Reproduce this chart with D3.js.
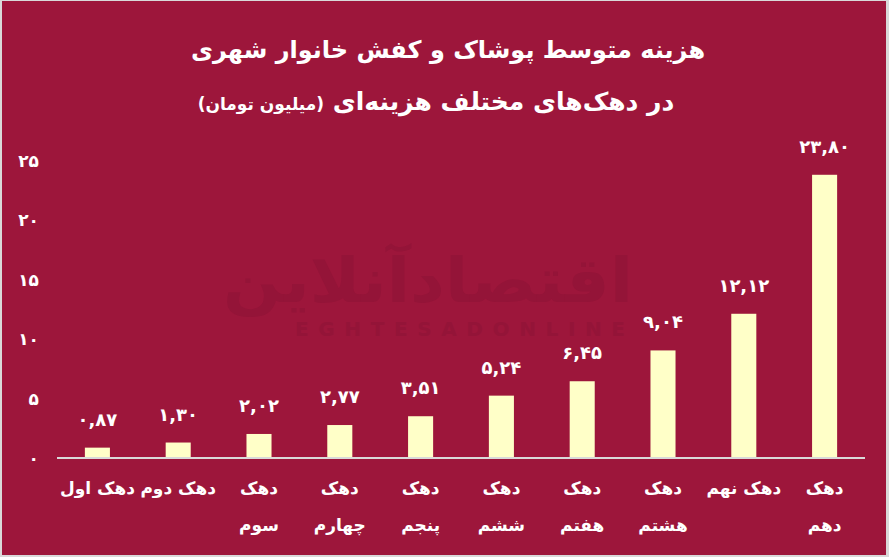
<!DOCTYPE html>
<html>
<head>
<meta charset="utf-8">
<script src="https://cdn.jsdelivr.net/npm/d3@7"></script>
<style>
  html, body { margin: 0; padding: 0; background: #d9d9d9; }
  svg { display: block; }
  text { font-family: "DejaVu Sans", sans-serif; }
</style>
</head>
<body>
<svg id="chart" width="889" height="557"></svg>
<script>
// ---- data ----
const categories = ["دهک اول", "دهک دوم", "دهک\nسوم", "دهک\nچهارم", "دهک\nپنجم",
                    "دهک\nششم", "دهک\nهفتم", "دهک\nهشتم", "دهک نهم", "دهک\nدهم"];
const values = [0.87, 1.30, 2.02, 2.77, 3.51, 5.24, 6.45, 9.04, 12.12, 23.80];
const yTicks = [0, 5, 10, 15, 20, 25];
const titleLine1 = "هزینه متوسط پوشاک و کفش خانوار شهری";
const titleLine2 = "در دهک‌های مختلف هزینه‌ای";
const titleUnit = "(میلیون تومان)";

const faDigits = "۰۱۲۳۴۵۶۷۸۹";
const toFa = s => String(s).replace(/[0-9]/g, d => faDigits[+d]);

const W = 889, H = 557;
const svg = d3.select("#chart");

// background + border
svg.append("rect").attr("x", 0).attr("y", 0).attr("width", W).attr("height", H).attr("fill", "#d9d9d9");
svg.append("rect").attr("x", 2).attr("y", 1).attr("width", 884).attr("height", 554).attr("fill", "#9d163b");

// watermark
svg.append("text").attr("x", 428).attr("y", 302).attr("text-anchor", "middle")
  .attr("font-size", 62).attr("font-weight", "bold").attr("fill", "#921438").attr("opacity", 0.8)
  .attr("direction", "rtl").attr("textLength", 410).attr("lengthAdjust", "spacingAndGlyphs")
  .text("اقتصادآنلاین");
svg.append("text").attr("x", 460).attr("y", 336).attr("text-anchor", "middle")
  .attr("font-size", 20).attr("font-weight", "bold").attr("fill", "#921438").attr("opacity", 0.8)
  .attr("textLength", 330).attr("lengthAdjust", "spacing").text("EGHTESADONLINE");

// scales
const x = d3.scaleBand().domain(d3.range(categories.length)).range([57, 865])
  .paddingInner(0.69).paddingOuter(0.345);
const y = d3.scaleLinear().domain([0, 25]).range([458, 160.5]);

// title
svg.append("text").attr("x", 448).attr("y", 58).attr("text-anchor", "middle")
  .attr("direction", "rtl").attr("fill", "#ffffff").attr("font-size", 24).attr("font-weight", "bold")
  .text(titleLine1);
const t2 = svg.append("text").attr("x", 436).attr("y", 110).attr("text-anchor", "middle")
  .attr("direction", "rtl").attr("fill", "#ffffff").attr("font-weight", "bold");
t2.append("tspan").attr("font-size", 25).text(titleLine2 + " ");
t2.append("tspan").attr("font-size", 17).text(titleUnit);

// y axis labels
const yAxis = d3.axisLeft(y).tickValues(yTicks).tickSize(0).tickPadding(0).tickFormat(d => toFa(d));
const gy = svg.append("g").attr("transform", "translate(39,0)").call(yAxis);
gy.select(".domain").remove();
gy.selectAll("text").attr("fill", "#ffffff").attr("font-size", 17).attr("font-weight", "bold")
  .attr("font-family", "DejaVu Sans, sans-serif").attr("dy", "0.35em");

// bars
svg.append("g").selectAll("rect").data(values).join("rect")
  .attr("x", (d, i) => x(i)).attr("width", x.bandwidth())
  .attr("y", d => y(d)).attr("height", d => y(0) - y(d))
  .attr("fill", "#ffffc8");

// baseline
svg.append("line").attr("x1", 57).attr("x2", 865).attr("y1", y(0)).attr("y2", y(0))
  .attr("stroke", "#d9d9d9").attr("stroke-width", 2);

// value labels
svg.append("g").selectAll("text").data(values).join("text")
  .attr("x", (d, i) => x(i) + x.bandwidth() / 2).attr("y", d => y(d) - 22)
  .attr("text-anchor", "middle").attr("direction", "ltr")
  .attr("fill", "#ffffff").attr("font-size", 18).attr("font-weight", "bold")
  .text(d => toFa(d.toFixed(2).replace(".", ",")));

// x labels
const gx = svg.append("g");
categories.forEach((c, i) => {
  const lines = c.split("\n");
  lines.forEach((ln, j) => {
    gx.append("text").attr("x", x(i) + x.bandwidth() / 2).attr("y", 494 + j * 37)
      .attr("text-anchor", "middle").attr("direction", "rtl")
      .attr("fill", "#ffffff").attr("font-size", 17).attr("font-weight", "bold")
      .text(ln);
  });
});
</script>
</body>
</html>
